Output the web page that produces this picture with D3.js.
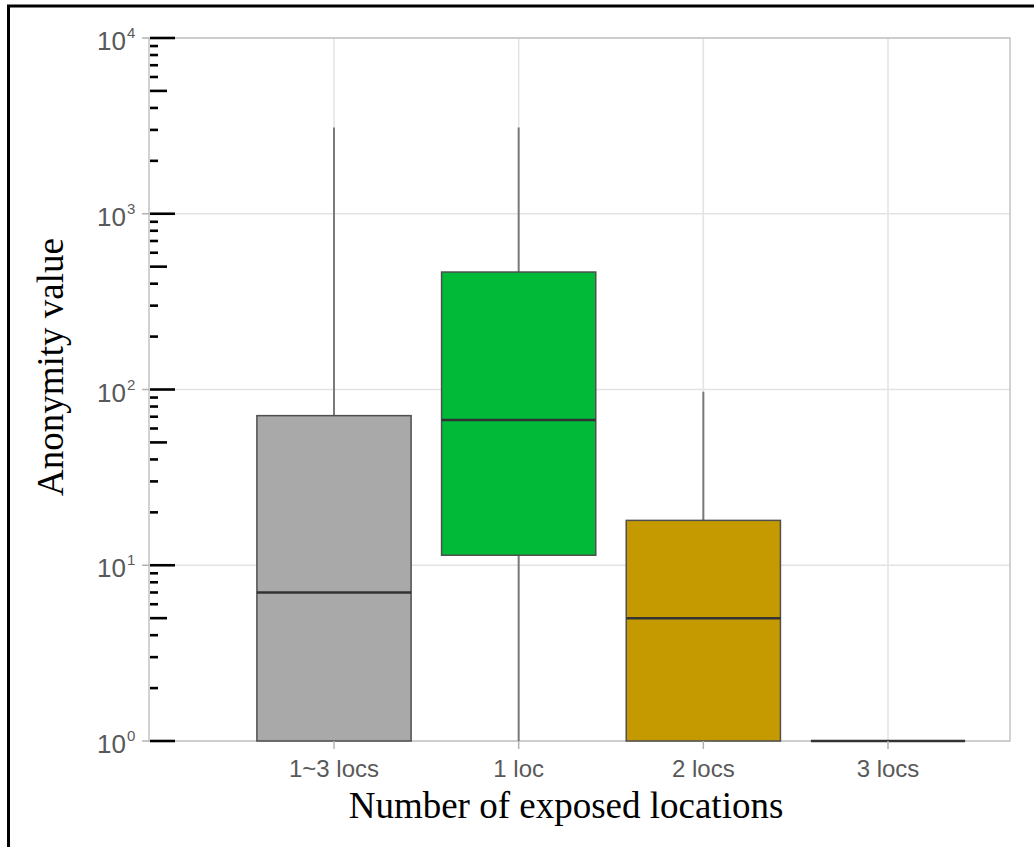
<!DOCTYPE html>
<html>
<head>
<meta charset="utf-8">
<script src="https://cdn.jsdelivr.net/npm/d3@7"></script>
<style>
  body { margin: 0; background: #fff; }
  svg { display: block; }
</style>
</head>
<body>
<svg class="chart"></svg>
<script>
// box summary values
const categories = ["1~3 locs", "1 loc", "2 locs", "3 locs"]
const whisker_low = [1, 1, 1, 1]
const q1 = [1, 11.4, 1, 1]
const medians = [7, 67, 5, 1]
const q3 = [71, 466, 18, 1]
const whisker_high = [3100, 3100, 97, 1]
const fills = ["#a9a9a9", "#00ba38", "#c49a00", "#a9a9a9"]

const y_decades = [0, 1, 2, 3, 4]

const x_title = "Number of exposed locations"
const y_title = "Anonymity value"

const width = 1034
const height = 847
const panel = {left: 149, right: 1010, top: 38, bottom: 741}

let svg = d3.select(".chart")
    .attr("width", width)
    .attr("height", height)

let data = categories.map((c, i) => {
    return {
        cat: c,
        lo: whisker_low[i],
        q1: q1[i],
        med: medians[i],
        q3: q3[i],
        hi: whisker_high[i],
        fill: fills[i]
    }
})

// scales
let xScale = d3.scalePoint()
    .domain(categories)
    .range([334, 888])

let boxWidth = xScale.step() * 0.835

let yScale = d3.scaleLog()
    .domain([1, 1e4])
    .range([panel.bottom, panel.top])

// outer frame (cropped on the right and bottom)
svg.append("rect")
    .attr("x", 8.5)
    .attr("y", 6)
    .attr("width", width + 20)
    .attr("height", height + 20)
    .attr("fill", "none")
    .attr("stroke", "black")
    .attr("stroke-width", 3)

// grid
let grid = svg.append("g")
grid.selectAll("line.hgrid")
    .data(y_decades)
    .enter()
    .append("line")
    .attr("x1", panel.left)
    .attr("x2", panel.right)
    .attr("y1", d => yScale(Math.pow(10, d)))
    .attr("y2", d => yScale(Math.pow(10, d)))
    .attr("stroke", "#e3e3e3")
    .attr("stroke-width", 1.5)

grid.selectAll("line.vgrid")
    .data(categories)
    .enter()
    .append("line")
    .attr("x1", d => xScale(d))
    .attr("x2", d => xScale(d))
    .attr("y1", panel.top)
    .attr("y2", panel.bottom)
    .attr("stroke", "#e3e3e3")
    .attr("stroke-width", 1.5)

// panel border
svg.append("rect")
    .attr("x", panel.left)
    .attr("y", panel.top)
    .attr("width", panel.right - panel.left)
    .attr("height", panel.bottom - panel.top)
    .attr("fill", "none")
    .attr("stroke", "#c4c4c4")
    .attr("stroke-width", 1.5)

// whiskers
let boxes = svg.append("g")
boxes.selectAll("line.whisker")
    .data(data)
    .enter()
    .append("line")
    .attr("x1", d => xScale(d.cat))
    .attr("x2", d => xScale(d.cat))
    .attr("y1", d => yScale(d.lo))
    .attr("y2", d => yScale(d.hi))
    .attr("stroke", "#7a7a7a")
    .attr("stroke-width", 2)

// boxes
boxes.selectAll("rect.box")
    .data(data)
    .enter()
    .append("rect")
    .attr("x", d => xScale(d.cat) - boxWidth / 2)
    .attr("width", boxWidth)
    .attr("y", d => yScale(d.q3))
    .attr("height", d => yScale(d.q1) - yScale(d.q3))
    .attr("fill", d => d.fill)
    .attr("stroke", "#4f4f4f")
    .attr("stroke-width", 1.5)

// medians
boxes.selectAll("line.median")
    .data(data)
    .enter()
    .append("line")
    .attr("x1", d => xScale(d.cat) - boxWidth / 2)
    .attr("x2", d => xScale(d.cat) + boxWidth / 2)
    .attr("y1", d => yScale(d.med))
    .attr("y2", d => yScale(d.med))
    .attr("stroke", "#333")
    .attr("stroke-width", 2.5)

// y axis: gray ticks + 10^n labels
let yAxis = svg.append("g")
yAxis.selectAll("line.ytick")
    .data(y_decades)
    .enter()
    .append("line")
    .attr("x1", panel.left - 7)
    .attr("x2", panel.left)
    .attr("y1", d => yScale(Math.pow(10, d)))
    .attr("y2", d => yScale(Math.pow(10, d)))
    .attr("stroke", "#b3b3b3")
    .attr("stroke-width", 1.5)

let ylab = yAxis.selectAll("g.ylab")
    .data(y_decades)
    .enter()
    .append("g")
    .attr("transform", d => `translate(0, ${yScale(Math.pow(10, d))})`)

ylab.append("text")
    .attr("x", 126)
    .attr("y", 12)
    .attr("text-anchor", "end")
    .attr("font-family", "Liberation Sans, Arial, sans-serif")
    .attr("font-size", 26)
    .attr("fill", "#595959")
    .text("10")

ylab.append("text")
    .attr("x", 127)
    .attr("y", 0)
    .attr("font-family", "Liberation Sans, Arial, sans-serif")
    .attr("font-size", 15)
    .attr("fill", "#595959")
    .text(d => d)

// log ticks (black, inside the panel)
let logticks = []
y_decades.forEach(k => {
    logticks.push({v: Math.pow(10, k), len: 25})
    if (k < 4) {
        for (let m = 2; m <= 9; m++) {
            logticks.push({v: m * Math.pow(10, k), len: m === 5 ? 17 : 8})
        }
    }
})

svg.append("g")
    .selectAll("line.logtick")
    .data(logticks)
    .enter()
    .append("line")
    .attr("x1", panel.left + 1)
    .attr("x2", d => panel.left + 1 + d.len)
    .attr("y1", d => yScale(d.v))
    .attr("y2", d => yScale(d.v))
    .attr("stroke", "black")
    .attr("stroke-width", 2.6)

// x axis
let xAxis = svg.append("g")
xAxis.selectAll("line.xtick")
    .data(categories)
    .enter()
    .append("line")
    .attr("x1", d => xScale(d))
    .attr("x2", d => xScale(d))
    .attr("y1", panel.bottom)
    .attr("y2", panel.bottom + 8)
    .attr("stroke", "#b3b3b3")
    .attr("stroke-width", 1.5)

xAxis.selectAll("text.xlab")
    .data(categories)
    .enter()
    .append("text")
    .attr("x", d => xScale(d))
    .attr("y", 777)
    .attr("text-anchor", "middle")
    .attr("font-family", "Liberation Sans, Arial, sans-serif")
    .attr("font-size", 24)
    .attr("fill", "#595959")
    .text(d => d)

// titles
svg.append("text")
    .attr("x", 566)
    .attr("y", 818)
    .attr("text-anchor", "middle")
    .attr("font-family", "Liberation Serif, Times New Roman, serif")
    .attr("font-size", 37)
    .attr("fill", "black")
    .text(x_title)

svg.append("text")
    .attr("transform", "translate(63, 367) rotate(-90)")
    .attr("text-anchor", "middle")
    .attr("font-family", "Liberation Serif, Times New Roman, serif")
    .attr("font-size", 37)
    .attr("fill", "black")
    .text(y_title)
</script>
</body>
</html>
